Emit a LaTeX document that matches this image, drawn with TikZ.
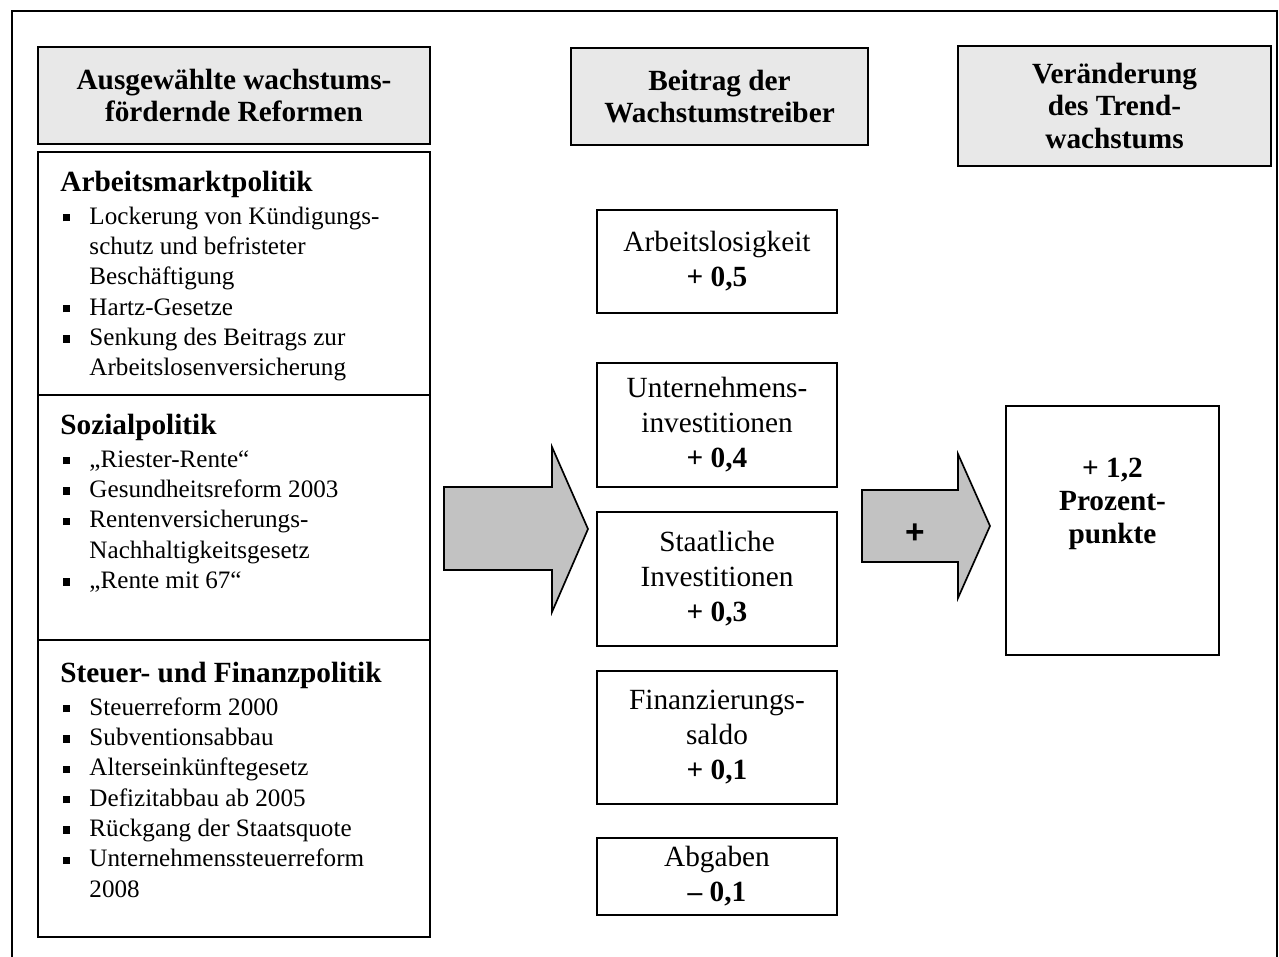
\documentclass[tikz,border=0pt]{standalone}
\usepackage{fontspec}
\setmainfont{Liberation Serif}
\newfontfamily\plusfont{Liberation Sans}
\usepackage{tikz}
\usetikzlibrary{positioning}
\definecolor{headgray}{gray}{0.91}
\definecolor{arrowgray}{gray}{0.76}
\newcommand{\pxl}{0.478pt}
\newcommand{\bul}{\makebox[13.9pt][l]{\hspace{1pt}\rule[1.3pt]{3.5pt}{3.5pt}}}
\newcommand{\ind}{\hspace*{13.9pt}}
\newcommand{\listhead}[1]{{\fontsize{14}{16}\selectfont\bfseries #1}}
\tikzset{
  head box/.style={draw, line width=1.3pt, fill=headgray, align=center, inner sep=0pt,
    font=\fontsize{14}{15.5}\selectfont\bfseries},
  list box/.style={draw, line width=0.8pt, inner sep=0pt, minimum width=392*\pxl},
  list text/.style={anchor=north west, inner sep=0pt, align=left, font=\fontsize{12}{14.5}\selectfont},
  driver box/.style={draw, line width=0.8pt, align=center, inner sep=0pt, minimum width=240*\pxl,
    font=\fontsize{14}{16.7}\selectfont},
  block arrow/.style={draw, line width=0.8pt, fill=arrowgray, line join=miter}
}

\begin{document}
\begin{tikzpicture}[x=0.478pt, y=-0.478pt]
	\useasboundingbox (0,0) rectangle (1279,957);
	% frame, open at the bottom
	\draw[line width=1pt] (12,957) |- (1277,11) -- (1277,957);

	% column heads
	\node[head box, minimum width=392*\pxl, minimum height=97*\pxl] (hRef) at (234,95.5) {Ausgewählte wachstums-\\fördernde Reformen};
	\node[head box, minimum width=297*\pxl, minimum height=97*\pxl] (hDrv) at (719.5,96.5) {Beitrag der\\Wachstumstreiber};
	\node[head box, minimum width=313*\pxl, minimum height=120*\pxl] (hTrd) at (1114.5,106) {Veränderung\\des Trend-\\wachstums};

	% reforms
	\node[list box, minimum height=243*\pxl] (amp) at (234,273.5) {};
	\node[list text] (ampText) at (60,171) {\listhead{Arbeitsmarktpolitik}\\[1pt]
		\bul Lockerung von Kündigungs-\\ \ind schutz und befristeter\\ \ind Beschäftigung\\
		\bul Hartz-Gesetze\\
		\bul Senkung des Beitrags zur\\ \ind Arbeitslosenversicherung};

	\node[list box, minimum height=245*\pxl] (sop) at (234,517.5) {};
	\node[list text] (sopText) at (60,414) {\listhead{Sozialpolitik}\\[1pt]
		\bul „Riester-Rente“\\
		\bul Gesundheitsreform 2003\\
		\bul Rentenversicherungs-\\ \ind Nachhaltigkeitsgesetz\\
		\bul „Rente mit 67“};

	\node[list box, minimum height=297*\pxl] (sfp) at (234,788.5) {};
	\node[list text] (sfpText) at (60,662) {\listhead{Steuer- und Finanzpolitik}\\[1pt]
		\bul Steuerreform 2000\\
		\bul Subventionsabbau\\
		\bul Alterseinkünftegesetz\\
		\bul Defizitabbau ab 2005\\
		\bul Rückgang der Staatsquote\\
		\bul Unternehmenssteuerreform\\ \ind 2008};

	% growth drivers
	\node[driver box, minimum height=103*\pxl] (alo) at (717,261.5) {Arbeitslosigkeit\\\textbf{+ 0,5}};
	\node[driver box, minimum height=124*\pxl] (uinv) at (717,425) {Unternehmens-\\investitionen\\\textbf{+ 0,4}};
	\node[driver box, minimum height=134*\pxl] (sinv) at (717,579) {Staatliche\\Investitionen\\\textbf{+ 0,3}};
	\node[driver box, minimum height=133*\pxl] (fsal) at (717,737.5) {Finanzierungs-\\saldo\\\textbf{+ 0,1}};
	\node[driver box, minimum height=77*\pxl] (abg) at (717,876.5) {Abgaben\\\textbf{– 0,1}};

	% arrows
	\draw[block arrow] (444,487) -- (552,487) -- (552,447) -- (588,529) -- (552,612) -- (552,570) -- (444,570) -- cycle;
	\draw[block arrow] (862,490) -- (958,490) -- (958,454) -- (990,526) -- (958,598) -- (958,562) -- (862,562) -- cycle;
	\node[] (plus) at (915,534) {\plusfont\bfseries\fontsize{16}{16}\selectfont +};

	% result
	\node[draw, line width=0.8pt, inner sep=0pt, minimum width=213*\pxl, minimum height=249*\pxl] (res) at (1112.5,530.5) {};
	\node[align=center, inner sep=0pt, font=\fontsize{14}{15.8}\selectfont\bfseries] (resText) at (1112.5,504) {+ 1,2\\Prozent-\\punkte};
\end{tikzpicture}
\end{document}
